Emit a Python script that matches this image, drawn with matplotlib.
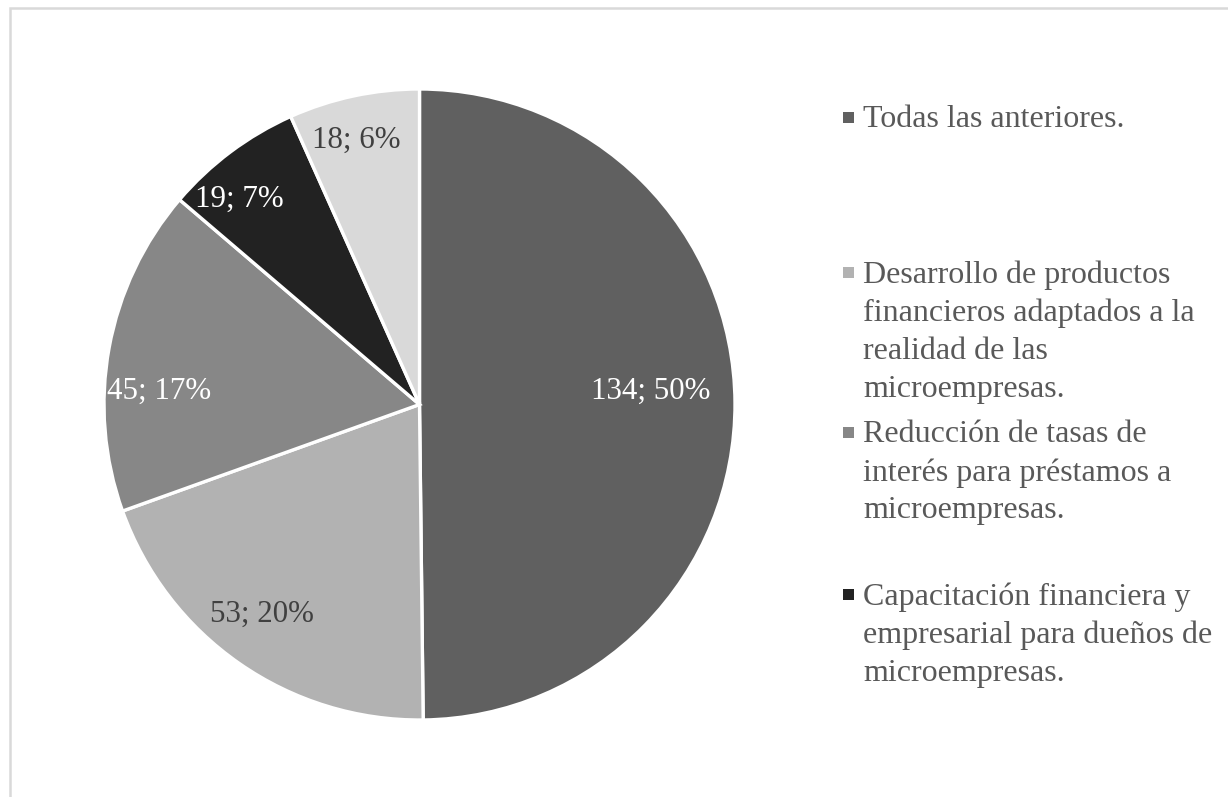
import matplotlib
matplotlib.use("Agg")
import matplotlib.pyplot as plt
from matplotlib.patches import Rectangle
import numpy as np

# Data
categories = [
    "Todas las anteriores.",
    "Desarrollo de productos\nfinancieros adaptados a la\nrealidad de las\nmicroempresas.",
    "Reducción de tasas de\ninterés para préstamos a\nmicroempresas.",
    "Capacitación financiera y\nempresarial para dueños de\nmicroempresas.",
    "Otros",
]
values = [134, 53, 45, 19, 18]
percents = [50, 20, 17, 7, 6]

# Styles
colors = ["#606060", "#b2b2b2", "#878787", "#222222", "#d9d9d9"]
label_colors = ["white", "#404040", "white", "white", "#404040"]
label_dist = [0.735, 0.826, 0.827, 0.87, 0.87]
label_angle_adj = [3.5, -2.4, 6.9, 4.1, 1.3]

plt.rcParams['font.family'] = ['Liberation Serif', 'DejaVu Serif']

W, H = 1228, 797
fig = plt.figure(figsize=(W / 100, H / 100), dpi=100)

# border
fig.patches.append(Rectangle((9.5 / W, -0.1), 1.2, 1.1 - 8.5 / H,
                             transform=fig.transFigure, fill=False,
                             edgecolor="#d9d9d9", linewidth=1.8))

cx, cy, R = 419.5, 404.5, 315.5
ax = fig.add_axes([(cx - R) / W, (H - cy - R) / H, 2 * R / W, 2 * R / H])
wedges, _ = ax.pie(values, colors=colors, startangle=90, counterclock=False,
                   wedgeprops=dict(edgecolor="white", linewidth=2.4))
ax.set_xlim(-1, 1)
ax.set_ylim(-1, 1)
ax.set_aspect("equal")
ax.axis("off")

for w, v, p, c, d, adj in zip(wedges, values, percents, label_colors, label_dist, label_angle_adj):
    ang = np.deg2rad((w.theta1 + w.theta2) / 2 + adj)
    ax.text(d * np.cos(ang), d * np.sin(ang) - 0.008, f"{v}; {p}%", ha="center", va="center",
            fontsize=22.3, color=c)

# Legend (first four entries shown, as in the original)
legend_baselines = [128, 283, 443, 605]
for cat, col, yb in zip(categories[:4], colors[:4], legend_baselines):
    fig.patches.append(Rectangle((843 / W, 1 - (yb - 5) / H), 11 / W, 11 / H,
                                 transform=fig.transFigure, facecolor=col, edgecolor="none"))
    fig.text(863 / W, 1 - (yb - 23) / H, cat, ha="left", va="top", fontsize=23,
             color="#595959", linespacing=1.40)

fig.savefig("out.png", dpi=100)
